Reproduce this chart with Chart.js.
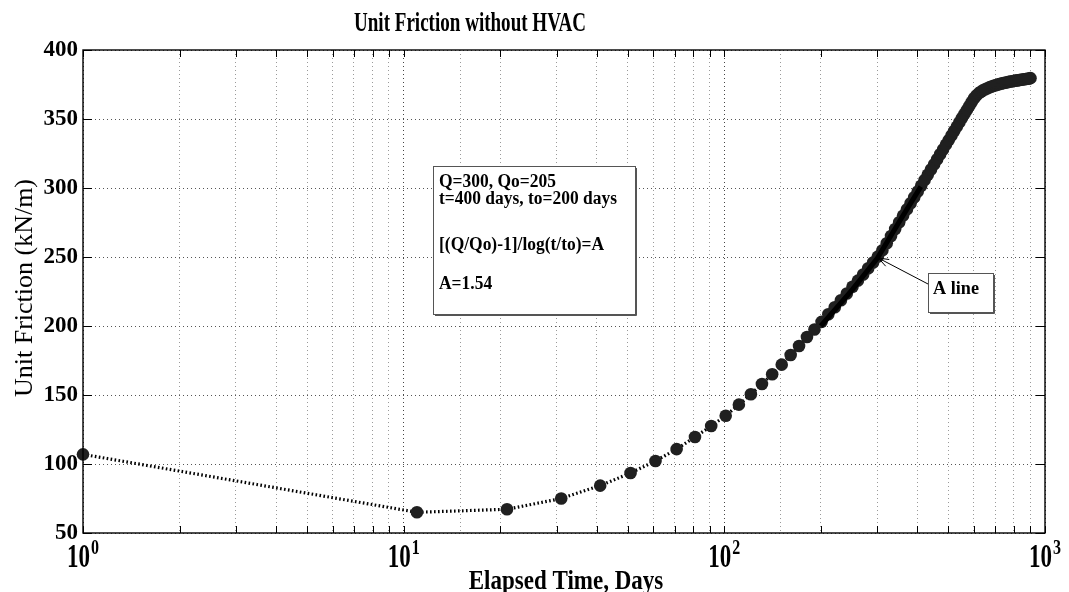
<!DOCTYPE html>
<html><head><meta charset="utf-8">
<script src="https://cdn.jsdelivr.net/npm/chart.js@4.4.1/dist/chart.umd.min.js"></script>
<style>html,body{margin:0;padding:0;background:#fff;overflow:hidden}</style>
</head><body>
<canvas id="c" width="1069" height="592"></canvas>
<script>
const chartTitle = 'Unit Friction without HVAC';
const xTitle = 'Elapsed Time, Days';
const yTitle = 'Unit Friction (kN/m)';

const days = [1, 11, 21, 31, 41, 51, 61, 71, 81, 91,
  101, 111, 121, 131, 141, 151, 161, 171, 181, 191,
  201, 211, 221, 231, 241, 251, 261, 271, 281, 291,
  301, 311, 321, 331, 341, 351, 361, 371, 381, 391,
  401, 411, 421, 431, 441, 451, 461, 471, 481, 491,
  501, 511, 521, 531, 541, 551, 561, 571, 581, 591,
  601, 611, 621, 631, 641, 651, 661, 671, 681, 691,
  701, 711, 721, 731, 741, 751, 761, 771, 781, 791,
  801, 811, 821, 831, 841, 851, 861, 871, 881, 891, 901];
const friction = [107, 65, 67.2, 75, 84.3, 93.5, 102.2, 110.8, 119.6, 127.5,
  135, 143, 150.5, 158, 165, 172, 179, 185.5, 192, 197.5,
  203, 208.5, 213.6, 218.7, 223.6, 228.4, 232.9, 237.3, 241.8, 246,
  250.3, 254.8, 260, 265.2, 270.3, 275.2, 280, 284.5, 289, 293.3,
  297.5, 301.6, 305.7, 309.6, 313.4, 317.1, 320.8, 324.4, 327.9, 331.4,
  334.7, 338.1, 341.3, 344.5, 347.6, 350.7, 353.7, 356.6, 359.5, 362.3,
  365, 367, 368.6, 369.8, 370.8, 371.6, 372.3, 372.9, 373.5, 374,
  374.5, 374.9, 375.3, 375.7, 376, 376.3, 376.6, 376.9, 377.2, 377.4,
  377.6, 377.8, 378, 378.2, 378.4, 378.6, 378.8, 379, 379.2, 379.4, 379.6];

const aLineDays = [200, 250, 300, 350, 410];
const aLineFriction = [200, 226, 249, 275, 301];

const xDecades = [1, 10, 100, 1000];
const xDecadeExp = ['0', '1', '2', '3'];
const yMin = 50, yMax = 400, yStep = 50;

const noteLines = ['Q=300, Qo=205', 't=400 days, to=200 days', '[(Q/Qo)-1]/log(t/to)=A', 'A=1.54'];
const calloutText = 'A line';
const calloutTarget = {x: 300, y: 250};

const SERIF = '"Liberation Serif", "Times New Roman", serif';

function drawText(ctx, text, x, y, font, align, sx, sy, targetW) {
  ctx.save();
  ctx.font = font;
  ctx.textBaseline = 'alphabetic';
  ctx.textAlign = 'left';
  let w = ctx.measureText(text).width;
  let kx = sx || 1;
  if (targetW) kx = targetW / w;
  const ww = w * kx;
  let left = x;
  if (align === 'center') left = x - ww / 2;
  else if (align === 'right') left = x - ww;
  ctx.translate(left, y);
  ctx.scale(kx, sy || 1);
  ctx.fillText(text, 0, 0);
  ctx.restore();
  return ww;
}

const decor = {
  id: 'decor',
  afterDraw(chart) {
    const {ctx, chartArea: a, scales: {x, y}} = chart;
    ctx.save();
    ctx.fillStyle = '#000';
    ctx.strokeStyle = '#000';
    // inward ticks
    ctx.lineWidth = 1;
    const xt = [];
    for (let d = 1; d < 1000; d *= 10) for (let k = 1; k < 10; k++) xt.push(d * k);
    xt.push(1000);
    ctx.beginPath();
    xt.forEach(v => {
      const px = Math.round(x.getPixelForValue(v)) + 0.5;
      ctx.moveTo(px, a.bottom); ctx.lineTo(px, a.bottom - 7);
      ctx.moveTo(px, a.top); ctx.lineTo(px, a.top + 7);
    });
    for (let v = yMin; v <= yMax; v += yStep) {
      const py = Math.round(y.getPixelForValue(v)) + 0.5;
      ctx.moveTo(a.left, py); ctx.lineTo(a.left + 9, py);
      ctx.moveTo(a.right, py); ctx.lineTo(a.right - 9, py);
    }
    ctx.stroke();
    // frame
    ctx.lineWidth = 1.4;
    ctx.strokeRect(a.left, a.top, a.right - a.left, a.bottom - a.top);

    // x decade labels with superscripts
    xDecades.forEach((v, i) => {
      const px = x.getPixelForValue(v);
      ctx.font = 'bold 23px ' + SERIF;
      const w1 = ctx.measureText('10').width;
      ctx.font = 'bold 16px ' + SERIF;
      const w2 = ctx.measureText(xDecadeExp[i]).width;
      const left = px - (w1 + w2 + 1) / 2;
      drawText(ctx, '10', left, 567, 'bold 23px ' + SERIF, 'left', 1, 1.45);
      drawText(ctx, xDecadeExp[i], left + w1 + 1, 554, 'bold 16px ' + SERIF, 'left', 1, 1.3);
    });
    // axis titles
    drawText(ctx, xTitle, (a.left + a.right) / 2 + 2, 589, 'bold 23px ' + SERIF, 'center', 1, 1.15);
    ctx.save();
    ctx.translate(32, 288);
    ctx.rotate(-Math.PI / 2);
    drawText(ctx, yTitle, 0, 0, '24px ' + SERIF, 'center', 1, 1.05, 218);
    ctx.restore();
    // chart title
    drawText(ctx, chartTitle, 470, 31, 'bold 21px ' + SERIF, 'center', 1, 1.25, 232);

    // note box
    const bx = 433, by = 166, bw = 202, bh = 148;
    ctx.fillStyle = '#fff';
    ctx.fillRect(bx, by, bw, bh);
    ctx.strokeStyle = '#555';
    ctx.lineWidth = 1;
    ctx.strokeRect(bx + 0.5, by + 0.5, bw, bh);
    ctx.beginPath();
    ctx.moveTo(bx + bw + 1.5, by + 2); ctx.lineTo(bx + bw + 1.5, by + bh + 1.5); ctx.lineTo(bx + 2, by + bh + 1.5);
    ctx.stroke();
    ctx.fillStyle = '#000';
    const noteFont = 'bold 17.5px ' + SERIF;
    ctx.font = noteFont;
    const kx = 178 / ctx.measureText(noteLines[1]).width;
    const base = [187, 204, 250, 289];
    noteLines.forEach((t, i) => drawText(ctx, t, 439, base[i], noteFont, 'left', kx, 1.05));

    // callout
    const tx = x.getPixelForValue(calloutTarget.x), ty = y.getPixelForValue(calloutTarget.y);
    const cx = 928, cy = 273, cw = 65, ch = 39;
    ctx.strokeStyle = '#000';
    ctx.lineWidth = 1;
    ctx.beginPath();
    ctx.moveTo(cx, cy + 11); ctx.lineTo(tx + 1, ty + 1);
    const ang = Math.atan2(cy + 11 - ty, cx - tx);
    ctx.moveTo(tx + 1, ty + 1); ctx.lineTo(tx + 1 + 11 * Math.cos(ang - 0.35), ty + 1 + 11 * Math.sin(ang - 0.35));
    ctx.moveTo(tx + 1, ty + 1); ctx.lineTo(tx + 1 + 11 * Math.cos(ang + 0.35), ty + 1 + 11 * Math.sin(ang + 0.35));
    ctx.stroke();
    ctx.fillStyle = '#fff';
    ctx.fillRect(cx, cy, cw, ch);
    ctx.strokeStyle = '#555';
    ctx.strokeRect(cx + 0.5, cy + 0.5, cw, ch);
    ctx.beginPath();
    ctx.moveTo(cx + cw + 1.5, cy + 2); ctx.lineTo(cx + cw + 1.5, cy + ch + 1.5); ctx.lineTo(cx + 2, cy + ch + 1.5);
    ctx.stroke();
    ctx.fillStyle = '#000';
    drawText(ctx, calloutText, 933, 294, noteFont, 'left', 1, 1.05, 46);
    ctx.restore();
  }
};

const isDecade = v => [1, 10, 100, 1000].includes(Math.round(v));

new Chart(document.getElementById('c'), {
  type: 'scatter',
  data: {
    datasets: [
      {
        label: 'A line',
        data: aLineDays.map((d, i) => ({x: d, y: aLineFriction[i]})),
        showLine: true,
        borderColor: '#000',
        borderWidth: 5,
        pointRadius: 0,
        order: 0
      },
      {
        label: 'Unit Friction',
        data: days.map((d, i) => ({x: d, y: friction[i]})),
        showLine: true,
        borderColor: '#000',
        borderWidth: 3.2,
        borderDash: [1.6, 2.4],
        pointRadius: 6.3,
        pointBackgroundColor: '#202020',
        pointBorderColor: '#202020',
        pointBorderWidth: 0,
        clip: false,
        order: 1
      }
    ]
  },
  options: {
    responsive: false,
    animation: false,
    devicePixelRatio: 1,
    layout: {padding: {top: 50, right: 24, left: 0, bottom: 0}},
    plugins: {legend: {display: false}, tooltip: {enabled: false}, title: {display: false}},
    scales: {
      x: {
        type: 'logarithmic',
        min: 1, max: 1000,
        ticks: {display: false},
        grid: {
          drawTicks: false,
          color: ctx => isDecade(ctx.tick.value) ? '#444' : '#9a9a9a',
          lineWidth: 1
        },
        border: {display: false, dash: [1, 3]},
        afterFit(s) { s.height = 59; }
      },
      y: {
        min: yMin, max: yMax,
        ticks: {stepSize: yStep, color: '#000', padding: 5, font: {family: SERIF, size: 23, weight: 'bold'}},
        grid: {drawTicks: false, color: '#555', lineWidth: 1},
        border: {display: false, dash: [1, 3]},
        afterFit(s) { s.width = 83; }
      }
    }
  },
  plugins: [decor]
});
</script>
</body></html>
